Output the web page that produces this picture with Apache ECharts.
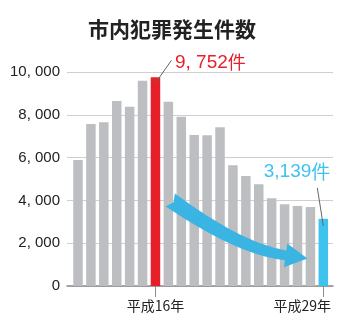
<!DOCTYPE html>
<html>
<head>
<meta charset="utf-8">
<script src="https://cdn.jsdelivr.net/npm/echarts@6/dist/echarts.min.js"></script>
<style>
  html, body { margin: 0; padding: 0; background: #ffffff; }
  #chart { width: 344px; height: 328px; }
</style>
</head>
<body>
<div id="chart"></div>
<script>
// 市内犯罪発生件数（平成10年〜平成29年）
const chartTitle = '市内犯罪発生件数';
const years = [
  '平成10年', '平成11年', '平成12年', '平成13年', '平成14年',
  '平成15年', '平成16年', '平成17年', '平成18年', '平成19年',
  '平成20年', '平成21年', '平成22年', '平成23年', '平成24年',
  '平成25年', '平成26年', '平成27年', '平成28年', '平成29年'
];
const counts = [
  5890, 7570, 7650, 8650, 8380,
  9590, 9752, 8610, 7910, 7056,
  7040, 7415, 5640, 5140, 4750,
  4100, 3820, 3740, 3690, 3139
];
const yTicks = [0, 2000, 4000, 6000, 8000, 10000];
const peakYear = '平成16年';
const latestYear = '平成29年';
const unit = '件';

// trend arrow anchors: [year index, count]
const arrowFrom = [7.15, 4020];
const arrowTo = [17.77, 1290];

const GRAY = '#bdbec2';
const RED = '#e71f28';
const BLUE = '#3ec3ee';
const ARROW = '#3ab5e3';
const INK = '#222222';
const LATIN = '"Liberation Sans", Arial, Helvetica, sans-serif';
const CJK = '"Noto Sans CJK JP", "Noto Sans", sans-serif';

const peakIdx = years.indexOf(peakYear);
const lastIdx = years.indexOf(latestYear);
const markedIdx = [peakIdx, lastIdx];

const fmtSpaced = v => v.toLocaleString('en-US').replace(',', ', ');
const fmtPlain = v => v.toLocaleString('en-US');

const barData = counts.map((v, i) => ({
  value: [i, v],
  itemStyle: { color: i === peakIdx ? RED : (i === lastIdx ? BLUE : GRAY) }
}));

const chart = echarts.init(document.getElementById('chart'), null, { renderer: 'canvas' });

chart.setOption({
  animation: false,
  backgroundColor: '#ffffff',
  title: {
    text: chartTitle,
    left: 'center',
    top: 14,
    textStyle: { fontFamily: CJK, fontSize: 21, fontWeight: 'bold', color: INK }
  },
  grid: { left: 67, right: 11, top: 72, bottom: 42 },
  xAxis: {
    type: 'value',
    min: -0.852,
    max: 19.75,
    splitLine: { show: false },
    axisLine: { show: true, lineStyle: { color: '#8c8c8c', width: 1.5 } },
    axisTick: {
      show: true,
      customValues: markedIdx,
      length: 11,
      lineStyle: { color: '#8c8c8c', width: 1 }
    },
    axisLabel: {
      customValues: markedIdx,
      margin: 13,
      formatter: v => (v === lastIdx ? '{r|' + years[v] + '}' : '{c|' + years[v] + '}'),
      rich: {
        c: { fontFamily: CJK, fontSize: 14, color: INK },
        r: { fontFamily: CJK, fontSize: 14, color: INK, padding: [0, 42, 0, 0] }
      }
    }
  },
  yAxis: {
    type: 'value',
    min: yTicks[0],
    max: yTicks[yTicks.length - 1],
    interval: yTicks[1] - yTicks[0],
    axisLine: { show: false },
    axisTick: { show: false },
    splitLine: { lineStyle: { color: '#cfcfcf', width: 1 } },
    axisLabel: {
      margin: 7,
      fontFamily: LATIN,
      fontSize: 15,
      color: INK,
      formatter: v => fmtSpaced(v)
    }
  },
  series: [{
    type: 'bar',
    barWidth: 9.5,
    data: barData
  }]
});

// annotations placed from the data through the chart's coordinate system
function px(pt) { return chart.convertToPixel({ gridIndex: 0 }, pt); }

function buildArrow() {
  const tail = px(arrowFrom);
  const tip = px(arrowTo);
  const deg = Math.PI / 180;
  const endDir = [Math.cos(8 * deg), Math.sin(8 * deg)];
  const startDir = [Math.cos(35 * deg), Math.sin(35 * deg)];
  const headLen = 22, headHalf = 12;
  const base = [tip[0] - headLen * endDir[0], tip[1] - headLen * endDir[1]];
  const c1 = [tail[0] + 40 * startDir[0], tail[1] + 40 * startDir[1]];
  const c2 = [base[0] - 40 * endDir[0], base[1] - 40 * endDir[1]];
  const N = 30;
  const upper = [], lower = [];
  for (let k = 0; k <= N; k++) {
    const t = k / N, u = 1 - t;
    const x = u*u*u*tail[0] + 3*u*u*t*c1[0] + 3*u*t*t*c2[0] + t*t*t*base[0];
    const y = u*u*u*tail[1] + 3*u*u*t*c1[1] + 3*u*t*t*c2[1] + t*t*t*base[1];
    const dx = 3*u*u*(c1[0]-tail[0]) + 6*u*t*(c2[0]-c1[0]) + 3*t*t*(base[0]-c2[0]);
    const dy = 3*u*u*(c1[1]-tail[1]) + 6*u*t*(c2[1]-c1[1]) + 3*t*t*(base[1]-c2[1]);
    const len = Math.hypot(dx, dy);
    const nx = dy / len, ny = -dx / len;
    const w = (16 + (10 - 16) * t) / 2;
    upper.push([x + nx * w, y + ny * w]);
    lower.push([x - nx * w, y - ny * w]);
  }
  const nUp = [endDir[1], -endDir[0]];
  const head = [
    [base[0] + nUp[0] * headHalf, base[1] + nUp[1] * headHalf],
    tip,
    [base[0] - nUp[0] * headHalf, base[1] - nUp[1] * headHalf]
  ];
  const notch = [tail[0] + 4 * startDir[0], tail[1] + 4 * startDir[1]];
  return upper.concat(head, lower.reverse(), [notch]);
}

function drawAnnotations() {
  const peakTop = px([peakIdx, counts[peakIdx]]);
  const lastTop = px([lastIdx, counts[lastIdx]]);
  chart.setOption({
    graphic: [
      {
        type: 'polygon',
        z: 50,
        shape: { points: buildArrow() },
        style: { fill: ARROW }
      },
      {
        type: 'line',
        z: 60,
        shape: { x1: peakTop[0] + 16, y1: peakTop[1] - 17, x2: peakTop[0] + 0.5, y2: peakTop[1] + 5 },
        style: { stroke: '#666666', lineWidth: 1 }
      },
      {
        type: 'text',
        z: 60,
        x: peakTop[0] + 19.5,
        y: peakTop[1] - 15,
        style: {
          text: '{n|' + fmtSpaced(counts[peakIdx]) + '}{u|' + unit + '}',
          align: 'left',
          verticalAlign: 'middle',
          rich: {
            n: { fontFamily: LATIN, fontSize: 19, fill: RED },
            u: { fontFamily: CJK, fontSize: 18, fill: RED }
          }
        }
      },
      {
        type: 'line',
        z: 60,
        shape: { x1: lastTop[0] - 6, y1: lastTop[1] - 31, x2: lastTop[0], y2: lastTop[1] + 7 },
        style: { stroke: '#666666', lineWidth: 1 }
      },
      {
        type: 'text',
        z: 60,
        x: lastTop[0] + 7,
        y: lastTop[1] - 47,
        style: {
          text: '{n|' + fmtPlain(counts[lastIdx]) + '}{u|' + unit + '}',
          align: 'right',
          verticalAlign: 'middle',
          rich: {
            n: { fontFamily: LATIN, fontSize: 19, fill: BLUE },
            u: { fontFamily: CJK, fontSize: 19, fill: BLUE }
          }
        }
      }
    ]
  });
}

drawAnnotations();
</script>
</body>
</html>
